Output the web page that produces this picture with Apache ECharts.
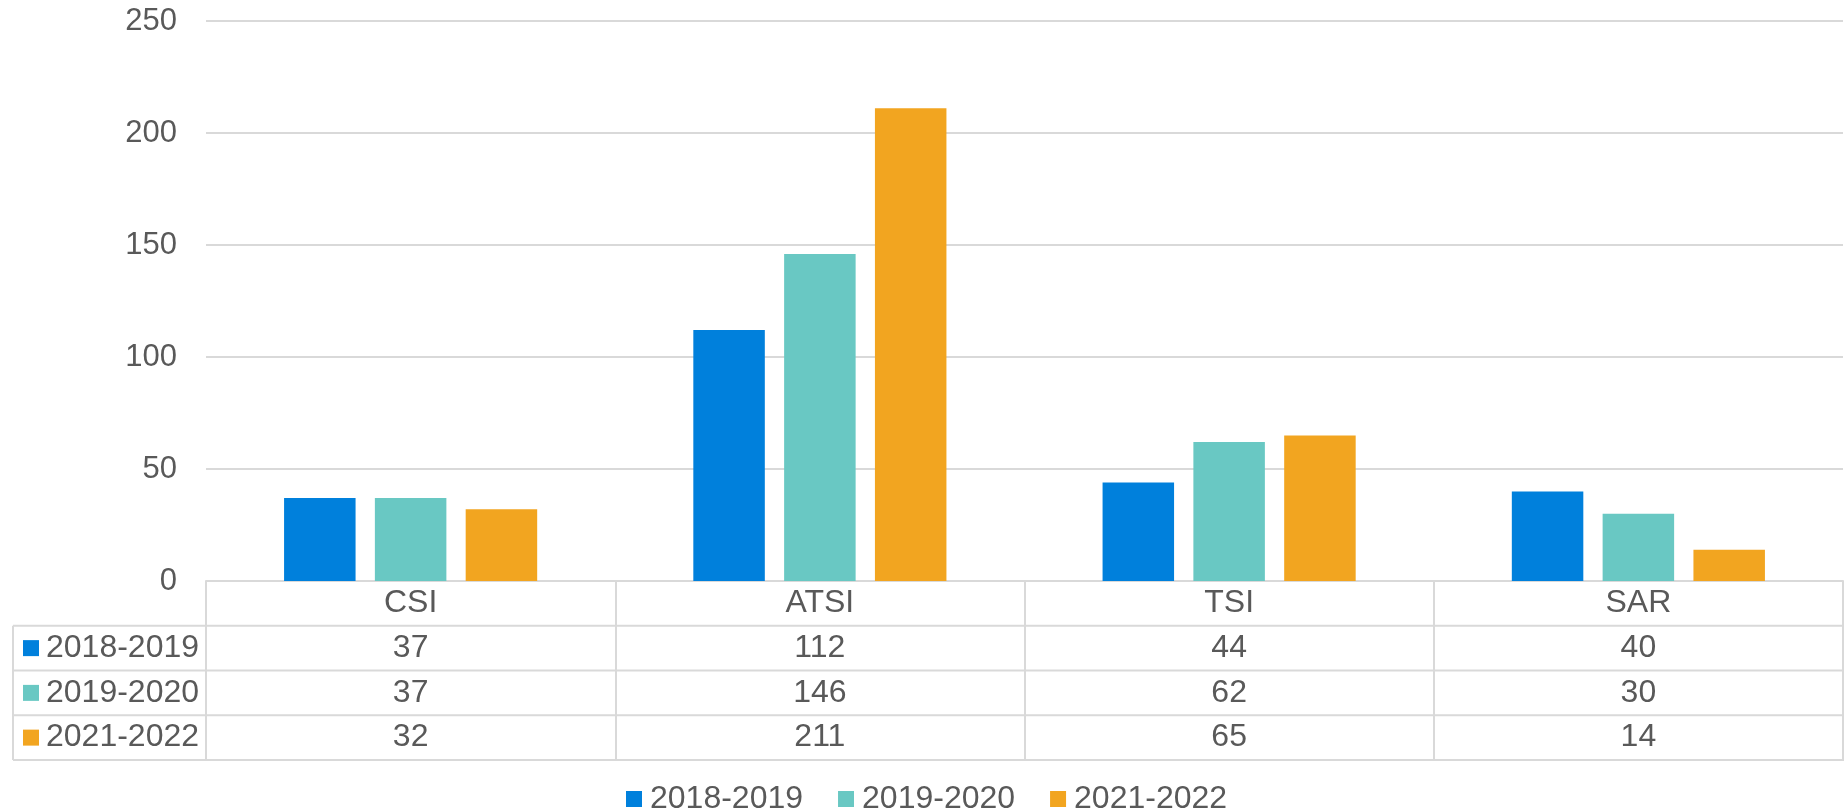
<!DOCTYPE html>
<html>
<head>
<meta charset="utf-8">
<style>
  html, body { margin: 0; padding: 0; background: #fff; }
  #main { width: 1845px; height: 812px; }
</style>
<script src="https://cdn.jsdelivr.net/npm/echarts@6/dist/echarts.min.js"></script>
</head>
<body>
<div id="main"></div>
<script>
// data
var categories = ['CSI', 'ATSI', 'TSI', 'SAR'];
var seriesNames = ['2018-2019', '2019-2020', '2021-2022'];
var values2018 = [37, 112, 44, 40];
var values2019 = [37, 146, 62, 30];
var values2021 = [32, 211, 65, 14];
var yMin = 0, yMax = 250, yStep = 50;

var colors = ['#0080DC', '#69C8C3', '#F2A520'];
var textColor = '#595959';
var lineColor = '#D9D9D9';
var font = 'Liberation Sans, Arial, sans-serif';

// layout of plot + data table
var gridLeft = 206, gridRight = 1843, gridTop = 21, axisY = 581;
var rowH = 44.75, tableLeft = 13;

var rows = [values2018, values2019, values2021];

var xAxes = [{
    type: 'category',
    data: categories,
    position: 'bottom',
    axisLine: { lineStyle: { color: lineColor, width: 2 } },
    axisTick: { show: true, interval: 0, length: rowH * 4, lineStyle: { color: lineColor, width: 2 } },
    axisLabel: { interval: 0, margin: rowH / 2, verticalAlign: 'middle', fontSize: 32, color: textColor, fontFamily: font }
}];
rows.forEach(function (vals, i) {
    xAxes.push({
        type: 'category',
        data: vals.map(String),
        position: 'bottom',
        offset: rowH * (i + 1),
        axisLine: { show: false },
        axisTick: { show: false },
        axisLabel: { interval: 0, margin: rowH / 2, verticalAlign: 'middle', fontSize: 32, color: textColor, fontFamily: font }
    });
});

// table borders and row headers
var graphics = [];
for (var k = 1; k <= 4; k++) {
    graphics.push({
        type: 'line',
        shape: { x1: tableLeft, y1: axisY + rowH * k, x2: gridRight + 1, y2: axisY + rowH * k },
        style: { stroke: lineColor, lineWidth: 2 }
    });
}
graphics.push({
    type: 'line',
    shape: { x1: tableLeft, y1: axisY + rowH, x2: tableLeft, y2: axisY + rowH * 4 },
    style: { stroke: lineColor, lineWidth: 2 }
});
seriesNames.forEach(function (name, i) {
    var cy = axisY + rowH * (i + 1.5);
    graphics.push({
        type: 'rect',
        shape: { x: 23, y: cy - 8, width: 16, height: 16 },
        style: { fill: colors[i] }
    });
    graphics.push({
        type: 'text',
        x: 46, y: cy,
        style: { text: name, fontSize: 32, fontFamily: font, fill: textColor, verticalAlign: 'middle', align: 'left' }
    });
});

var myChart = echarts.init(document.getElementById('main'));
var option = {
    animation: false,
    color: colors,
    grid: { left: gridLeft, right: 1845 - gridRight, top: gridTop, bottom: 812 - axisY, containLabel: false },
    legend: {
        data: seriesNames,
        left: 626,
        top: 783,
        padding: 0,
        icon: 'rect',
        itemWidth: 16,
        itemHeight: 16,
        itemGap: 35,
        textStyle: { fontSize: 32, color: textColor, fontFamily: font, padding: [0, 0, 0, 3] }
    },
    xAxis: xAxes,
    yAxis: {
        type: 'value',
        min: yMin,
        max: yMax,
        interval: yStep,
        axisLine: { show: false },
        axisTick: { show: false },
        axisLabel: { margin: 29, fontSize: 31, color: textColor, fontFamily: font },
        splitLine: { lineStyle: { color: lineColor, width: 2 } }
    },
    series: [
        { name: seriesNames[0], type: 'bar', data: values2018, barWidth: 71.5, barGap: '27%' },
        { name: seriesNames[1], type: 'bar', data: values2019, barWidth: 71.5, barGap: '27%' },
        { name: seriesNames[2], type: 'bar', data: values2021, barWidth: 71.5, barGap: '27%' }
    ],
    graphic: graphics
};
myChart.setOption(option);
</script>
</body>
</html>
